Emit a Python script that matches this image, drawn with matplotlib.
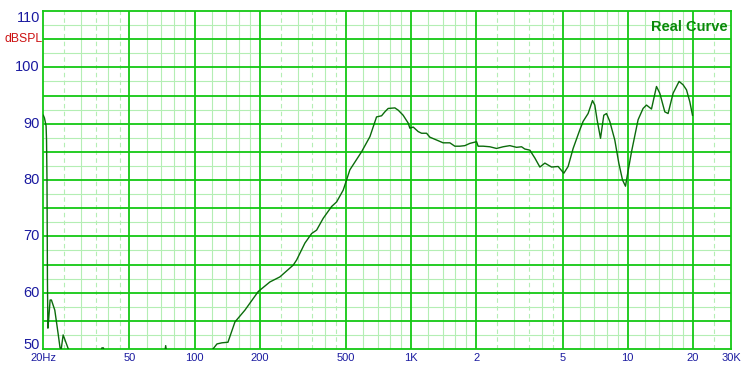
import matplotlib
matplotlib.use('Agg')
import matplotlib.pyplot as plt
from matplotlib.ticker import NullLocator

freq = [20, 20.25, 20.6, 20.7, 20.8, 20.9, 21.0, 21.2, 21.5, 21.8, 22.6, 23.4, 23.9, 24.2,
        24.7, 26.1, 27.5, 36.5, 37.3, 37.9, 38.8, 72.0, 73.5, 75.0, 118,
        121.5, 126.8, 133.7, 142.5, 153.5, 170.7, 196.6, 222.6, 247.6, 285.4, 295.8,
        323, 347, 365.8, 392.4, 429.2, 452.4, 485.4, 503, 521, 590, 645, 692, 730,
        756, 783, 841, 871, 918, 969, 986, 1022, 1077, 1117, 1178, 1220, 1310, 1405,
        1509, 1591, 1678, 1770, 1867, 2004, 2038, 2150, 2308, 2479, 2660, 2856, 3066,
        3234, 3348, 3532, 3726, 3930, 4145, 4450, 4772, 5070, 5307, 5598, 6010, 6224,
        6564, 6878, 7048, 7222, 7490, 7756, 7982, 8266, 8718, 9098, 9464, 9770, 9938,
        10414, 11170, 11778, 12212, 12880, 13582, 14070, 14838, 15368, 16206, 17274,
        18026, 18690, 19356, 19918]
spl = [91.5, 91.0, 89.6, 87.1, 80.0, 62.2, 53.7, 55.5, 58.7, 58.7, 56.9, 52.8, 50.2, 50.0,
       52.5, 50.0, 48.0, 48.0, 50.2, 50.2, 48.0, 48.0, 50.6, 48.0, 48.0,
       50.0, 50.9, 51.1, 51.2, 54.8, 56.9, 60.2, 61.9, 62.8, 64.9, 65.8,
       68.8, 70.5, 71.1, 73.2, 75.3, 76.1, 78.2, 80.0, 81.8, 85.0, 87.7, 91.2, 91.4,
       92.1, 92.7, 92.8, 92.4, 91.5, 90.1, 89.2, 89.4, 88.6, 88.3, 88.3, 87.6, 87.1, 86.6,
       86.6, 86.0, 86.0, 86.1, 86.5, 86.8, 86.0, 86.0, 85.9, 85.6, 85.9, 86.1, 85.8,
       85.9, 85.5, 85.3, 83.9, 82.3, 83.0, 82.3, 82.4, 81.2, 82.4, 85.6, 88.9, 90.4,
       91.8, 94.1, 93.3, 90.7, 87.4, 91.5, 91.8, 90.4, 87.1, 83.0, 80.0, 78.9, 80.6,
       85.0, 90.7, 92.7, 93.3, 92.6, 96.6, 95.4, 92.1, 91.8, 95.4, 97.5,
       96.9, 96.0, 93.9, 91.5]

x_ticks = [20, 50, 100, 200, 500, 1000, 2000, 5000, 10000, 20000, 30000]
x_labels = ['20Hz', '50', '100', '200', '500', '1K', '2', '5', '10', '20', '30K']
y_ticks = [50, 60, 70, 80, 90, 100, 110]
unit_label = 'dBSPL'
unit_pos = 105
title = 'Real Curve'

MAJOR = '#14c814'
LIGHT = '#b4eeb4'
CURVE = '#0b6b0b'
LABEL = '#1a1aa0'

fig = plt.figure(figsize=(7.43, 3.66), dpi=100)
ax = fig.add_axes([43.3 / 743, 17 / 366, 687.7 / 743, 338 / 366])
ax.set_xscale('log')
ax.set_xlim(20, 30000)
ax.set_ylim(50, 110)

# grid: 1-2-5 major, light solid and dashed in between
decades = [10, 100, 1000, 10000]
fmin, fmax = 20, 30000
for d in decades:
    for m in (1.2, 1.4, 1.6, 1.8, 3, 4, 6, 7, 8, 9):
        f = m * d
        if fmin < f < fmax:
            ax.axvline(f, color=LIGHT, lw=0.8, zorder=1)
    for m in (2.5, 3.5, 4.5):
        f = m * d
        if fmin < f < fmax:
            ax.axvline(f, color=LIGHT, lw=0.8, ls=(0, (4, 3)), zorder=1)
    for m in (1, 2, 5):
        f = m * d
        if fmin < f < fmax:
            ax.axvline(f, color=MAJOR, lw=1.3, zorder=2)
for v in range(50, 110, 5):
    ax.axhline(v + 2.5, color=LIGHT, lw=0.8, zorder=1)
    if v > 50:
        ax.axhline(v, color=MAJOR, lw=1.3, zorder=2)

ax.plot(freq, spl, color=CURVE, lw=1.0, zorder=3)

for s in ax.spines.values():
    s.set_color(MAJOR)
    s.set_linewidth(1.3)

ax.xaxis.set_minor_locator(NullLocator())
ax.yaxis.set_minor_locator(NullLocator())
ax.set_xticks(x_ticks)
ax.set_xticklabels(x_labels, fontsize=8, color=LABEL, family='Liberation Sans')
ax.set_yticks([])
ax.tick_params(axis='x', length=0, pad=3)

ytr = ax.get_yaxis_transform()
for v in y_ticks:
    va = 'center'
    if v == y_ticks[-1]:
        va = 'top'
    elif v == y_ticks[0]:
        va = 'baseline'
    ax.text(-0.005, v, str(v), transform=ytr, ha='right', va=va,
            fontsize=10.5, color=LABEL, family='Liberation Sans')
ax.text(-0.001, unit_pos, unit_label, transform=ytr, ha='right', va='center',
        fontsize=8.8, color='#cc1111', family='Liberation Sans')

ax.text(0.995, 0.973, title, transform=ax.transAxes, ha='right', va='top',
        fontsize=10.5, fontweight='bold', color='#0a8a0a', family='Liberation Sans')

fig.savefig('out.png', dpi=100, facecolor='white')
